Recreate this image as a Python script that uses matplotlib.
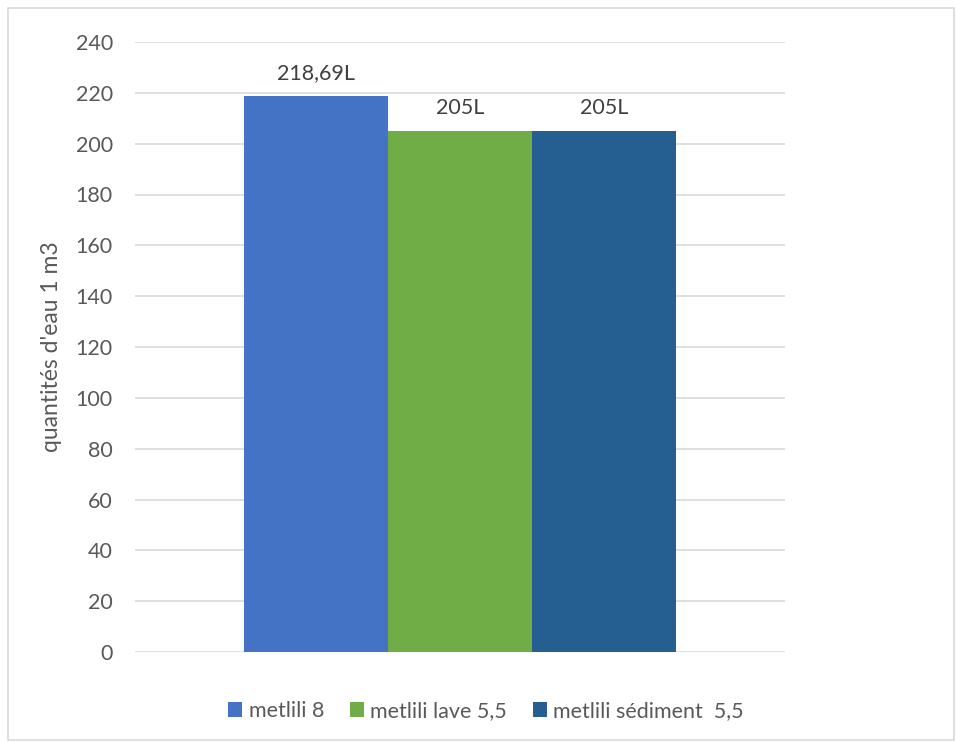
import matplotlib.pyplot as plt
import numpy as np
from matplotlib.patches import Rectangle

plt.rcParams['font.family'] = ['Lato', 'DejaVu Sans']

series = ['metlili 8', 'metlili lave 5,5', 'metlili sédiment  5,5']
values = [218.69, 205, 205]
value_labels = ['218,69L', '205L', '205L']
colors = ['#4472C4', '#70AD47', '#255E91']

fig = plt.figure(figsize=(9.57, 7.42), dpi=100)
ax = fig.add_axes([135 / 957, 1 - 652 / 742, 650 / 957, 610 / 742])

# grey frame around the whole chart
fig.patches.append(Rectangle((8 / 957, 2 / 742), 946 / 957, 732 / 742,
                             transform=fig.transFigure, fill=False,
                             edgecolor='#D9D9D9', linewidth=1.2))

width = 0.2215
offsets = (np.arange(len(series)) - 1) * width
for off, val, lab, name, col in zip(offsets, values, value_labels, series, colors):
    ax.bar(off, val, width=width, color=col, label=name, zorder=2)
    ax.text(off, val + 6.8, lab, ha='center', va='baseline', fontsize=15.5, color='#404040')

ax.set_xlim(-0.5, 0.5)
ax.set_ylim(0, 240)
ax.set_yticks(np.arange(0, 241, 20))
ax.set_xticks([])
ax.yaxis.grid(True, color='#D9D9D9', linewidth=1.2, zorder=0)
ax.tick_params(axis='y', length=0, labelsize=15.5, labelcolor='#595959', pad=16)
for s in ax.spines.values():
    s.set_visible(False)

ax.set_ylabel("quantités d'eau 1 m3", fontsize=16.5, color='#595959', labelpad=10)

fig.legend(loc='center', bbox_to_anchor=(486 / 957, 1 - 711 / 742), ncol=3,
           frameon=False, fontsize=15.5, labelcolor='#595959',
           handlelength=0.65, handleheight=0.65, handletextpad=0.3, columnspacing=1.2)

fig.savefig('out.png', dpi=100)
